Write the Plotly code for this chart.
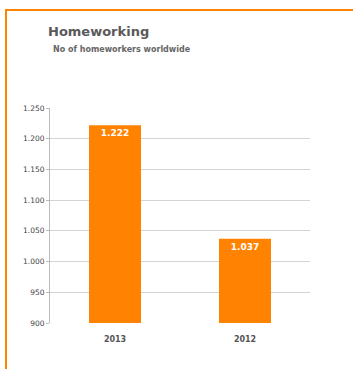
import plotly.graph_objects as go

categories = ["2013", "2012"]
values = [1222, 1037]
y_ticks = [900, 950, 1000, 1050, 1100, 1150, 1200, 1250]

ORANGE = "#FF8200"
W, H = 353, 369
L, R, T, B = 50, 43, 108, 46
pw, ph = W - L - R, H - T - B

def px(x):
    return (x - L) / pw

def py(y):
    return (H - B - y) / ph

FONT = "DejaVu Sans, Verdana, sans-serif"

fig = go.Figure(go.Bar(
    x=categories, y=values, marker=dict(color=ORANGE, line=dict(width=0)),
    width=0.4,
    texttemplate="<b>%{y:,.0f}</b>", textposition="inside", insidetextanchor="end",
    textfont=dict(color="white", size=9, family=FONT),
    cliponaxis=False,
))

fig.update_layout(
    width=W, height=H,
    margin=dict(l=L, r=R, t=T, b=B),
    paper_bgcolor="white", plot_bgcolor="white",
    separators=",.",
    showlegend=False,
    font=dict(family=FONT, color="#555555"),
    xaxis=dict(range=[-0.5, 1.5], showgrid=False, showline=False, ticks="",
               tickvals=categories, ticktext=["<b>" + c + "</b>" for c in categories],
               tickfont=dict(size=8, color="#555555"), ticklabelstandoff=10),
    yaxis=dict(range=[900, 1250], tickvals=y_ticks, tickformat=",.0f",
               showgrid=True, gridcolor="#D4D4D4", gridwidth=1,
               showline=True, linecolor="#BBBBBB", linewidth=1,
               ticks="outside", ticklen=3, tickcolor="#BBBBBB",
               tickfont=dict(size=7.5, color="#444444"), zeroline=False),
    shapes=[
        dict(type="line", xref="paper", yref="paper",
             x0=px(6), x1=px(W + 5), y0=py(10), y1=py(10),
             line=dict(color=ORANGE, width=2)),
        dict(type="line", xref="paper", yref="paper",
             x0=px(6), x1=px(6), y0=py(9), y1=py(H + 5),
             line=dict(color=ORANGE, width=2)),
    ],
    annotations=[
        dict(text="<b>Homeworking</b>", xref="paper", yref="paper",
             x=px(46), y=py(31), xanchor="left", yanchor="middle", showarrow=False,
             font=dict(size=13, color="#5a5a5a", family=FONT)),
        dict(text="<b>No of homeworkers worldwide</b>", xref="paper", yref="paper",
             x=px(51), y=py(50), xanchor="left", yanchor="middle", showarrow=False,
             font=dict(size=8, color="#666666", family=FONT)),
    ],
)

fig.write_html("out.html", config={"displayModeBar": False},
               post_script="document.body.style.margin='0';")
